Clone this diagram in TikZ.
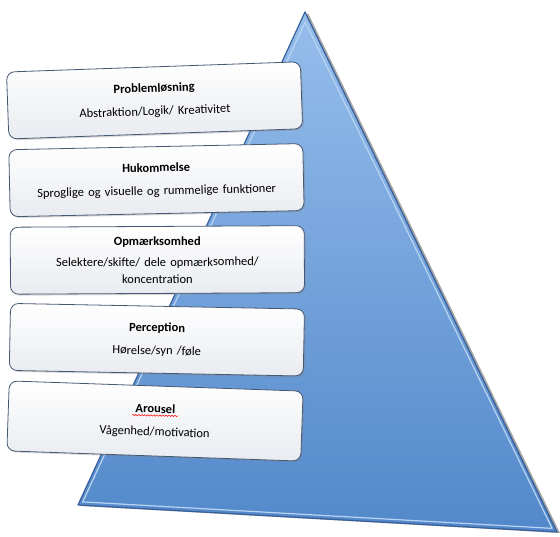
\documentclass[tikz,border=0pt]{standalone}
\usepackage{fontspec}
\setmainfont{Carlito}
\usetikzlibrary{positioning, shadows, calc, decorations.pathmorphing}

\definecolor{pyrtop}{RGB}{150,190,236}
\definecolor{pyrbot}{RGB}{82,136,202}
\definecolor{pyredge}{RGB}{55,95,155}
\definecolor{pyrhigh}{RGB}{185,212,242}
\definecolor{boxedge}{RGB}{70,88,115}
\definecolor{boxlow}{RGB}{232,235,240}

\begin{document}
\begin{tikzpicture}[x=1pt, y=-1pt, node distance=12pt, every node/.style={align=center},
    level/.style={draw=boxedge, line width=0.8pt, rounded corners=8pt, top color=white, bottom color=boxlow,
        minimum width=294pt, minimum height=67pt, text width=284pt, font=\fontsize{12.5}{17}\selectfont,
        drop shadow={opacity=0.3, shadow xshift=1.5pt, shadow yshift=-1.5pt}},
    spellmark/.style={red, line width=0.5pt, decorate, decoration={snake, amplitude=0.7pt, segment length=3pt}}]
    \useasboundingbox (0,0) rectangle (560,537);

    % Pyramid
    \coordinate (apex) at (305,12);
    \coordinate (left) at (78,505);
    \coordinate (right) at (557,532);
    \coordinate (mid) at (313,350);
    \shadedraw[draw=pyredge, line width=1.2pt, line join=round, top color=pyrtop, bottom color=pyrbot,
        drop shadow={opacity=0.7, shadow xshift=3pt, shadow yshift=-1pt}] (apex) -- (left) -- (right) -- cycle;
    \draw[pyrhigh, line width=1.2pt, line join=round] ($(apex)!0.03!(mid)$) -- ($(left)!0.02!(mid)$) -- ($(right)!0.02!(mid)$) -- cycle;

    % Levels, bottom to top
    \node (arousel) [level, minimum height=70pt, rotate=-2] at (155,421) {\textbf{Arousel} \\[6pt] Vågenhed/motivation};
    \node (perception) [level, rotate=-1.1, above=of arousel] {\textbf{Perception} \\[6pt] Hørelse/syn /føle};
    \node (attention) [level, rotate=0.3, above=of perception] {\textbf{Opmærksomhed} \\[4pt] Selektere/skifte/ dele opmærksomhed/ \\ koncentration};
    \node (memory) [level, rotate=1.2, above=of attention] {\textbf{Hukommelse} \\[6pt] Sproglige og visuelle og rummelige funktioner};
    \node (problem) [level, rotate=2, above=of memory] {\textbf{Problemløsning} \\[6pt] Abstraktion/Logik/ Kreativitet};

    % spelling mark under Arousel
    \draw[spellmark] ($(arousel.center)+(-23,-6)$) -- ($(arousel.center)+(23,-5)$);
\end{tikzpicture}
\end{document}
